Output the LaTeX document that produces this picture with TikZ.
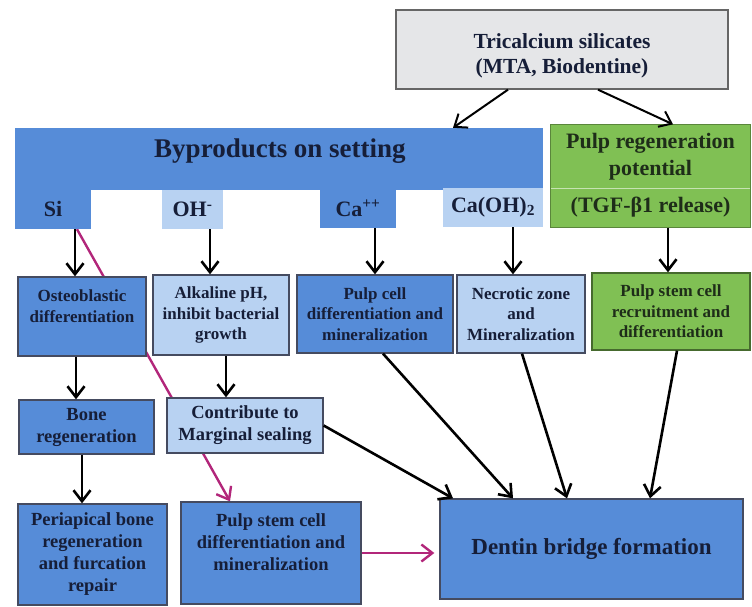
\documentclass[tikz,border=0pt]{standalone}
\usepackage{fontspec}
\setmainfont{Liberation Serif}
\usetikzlibrary{arrows.meta,backgrounds}

\definecolor{dkblue}{RGB}{86,140,216}
\definecolor{ltblue}{RGB}{184,210,242}
\definecolor{grn}{RGB}{128,192,84}
\definecolor{gry}{RGB}{229,230,232}
\definecolor{ink}{RGB}{22,30,56}
\definecolor{grnink}{RGB}{30,45,25}
\definecolor{mag}{RGB}{178,38,122}

\begin{document}
\begin{tikzpicture}[x=1pt,y=-1pt,
    box/.style={draw=ink!80, line width=1.3pt, inner sep=0pt, align=center, text=ink},
    darkbox/.style={box, fill=dkblue},
    lightbox/.style={box, fill=ltblue},
    grnbox/.style={box, fill=grn, draw=grn!55!black, text=grnink},
    cell/.style={inner sep=0pt, text=ink, font=\bfseries\fontsize{22}{26}\selectfont},
    fsmall/.style={font=\bfseries\fontsize{17}{20.5}\selectfont},
    fmid/.style={font=\bfseries\fontsize{18.5}{22}\selectfont},
    flarge/.style={font=\bfseries\fontsize{22}{27}\selectfont},
    arr/.style={-{Straight Barb[length=11pt,width=17pt]}, line width=2.6pt},
    magarr/.style={arr, draw=mag}]

    \useasboundingbox (0,0) rectangle (752,607);

    \node[box, fill=gry, draw=black!60, minimum width=332, minimum height=79] (tri) at (562,49.5) {};
    \node[text=ink, align=center, font=\bfseries\fontsize{21.5}{25}\selectfont] (tritxt) at (562,56) {Tricalcium silicates\\(MTA, Biodentine)};

    \node[fill=dkblue, minimum width=528, minimum height=62, inner sep=0pt] (bar) at (279,159) {};
    \node[text=ink, font=\bfseries\fontsize{27}{32}\selectfont] (bartxt) at (280,151) {Byproducts on setting};
    \node[cell, fill=dkblue, minimum width=76, minimum height=41] (si) at (53,208.5) {Si};
    \node[cell, fill=ltblue, minimum width=61, minimum height=39] (oh) at (192.5,209.5) {OH\textsuperscript{-}};
    \node[cell, fill=dkblue, minimum width=76, minimum height=40] (ca) at (358,208) {Ca\textsuperscript{++}};
    \node[cell, fill=ltblue, minimum width=100, minimum height=39] (caoh) at (493,207.5) {Ca(OH)\textsubscript{2}};

    \node[grnbox, flarge, draw=none, minimum width=199, minimum height=63] (gtop) at (650.5,156.5) {Pulp regeneration\\potential};
    \node[grnbox, flarge, draw=none, minimum width=199, minimum height=39] (gbot) at (650.5,207.5) {(TGF-β1 release)};
    \draw[white!55!grn, line width=1pt] (gtop.south west) -- (gtop.south east);
    \draw[grn!70!black, line width=1pt] (gtop.north west) rectangle (gbot.south east);

    \node[darkbox, fsmall, minimum width=128, minimum height=79] (osteo) at (82,316.5) {Osteoblastic\\differentiation\\\mbox{}};
    \node[lightbox, fsmall, minimum width=136, minimum height=80] (alk) at (221,315) {Alkaline pH,\\inhibit bacterial\\growth};
    \node[darkbox, fsmall, minimum width=156, minimum height=78] (pcell) at (375,314) {Pulp cell\\differentiation and\\mineralization};
    \node[lightbox, fsmall, minimum width=128, minimum height=78] (necro) at (521,314) {Necrotic zone\\and\\Mineralization};
    \node[grnbox, fsmall, minimum width=158, minimum height=77] (recruit) at (671,311.5) {Pulp stem cell\\recruitment and\\differentiation};

    \node[darkbox, fmid, minimum width=135, minimum height=54] (bone) at (86.5,427) {Bone\\regeneration};
    \node[lightbox, fmid, minimum width=156, minimum height=55] (seal) at (245,425.5) {Contribute to\\Marginal sealing};

    \node[darkbox, fmid, minimum width=149, minimum height=101] (peri) at (92.5,554.5) {Periapical bone\\regeneration\\and furcation\\repair};
    \node[darkbox, fmid, minimum width=180, minimum height=102] (pstem) at (271,553) {Pulp stem cell\\differentiation and\\mineralization\\\mbox{}};
    \node[darkbox, font=\bfseries\fontsize{23}{27}\selectfont, minimum width=303, minimum height=100] (dentin) at (591.5,549) {Dentin bridge formation};

    \draw[arr, line width=2pt] ([xshift=-54]tri.south) -- ([xshift=174]bar.north);
    \draw[arr, line width=2pt] ([xshift=36]tri.south) -- ([xshift=22.5]gtop.north);

    \draw[arr] ([xshift=22]si.south) -- ([xshift=-7]osteo.north);
    \draw[arr] ([xshift=17.5]oh.south) -- ([xshift=-11]alk.north);
    \draw[arr] ([xshift=17]ca.south) -- (pcell.north);
    \draw[arr] ([xshift=20]caoh.south) -- ([xshift=-8]necro.north);
    \draw[arr] ([xshift=17.5]gbot.south) -- ([xshift=-3]recruit.north);

    \draw[arr] ([xshift=-6]osteo.south) -- ([xshift=-10.5]bone.north);
    \draw[arr] ([xshift=5]alk.south) -- ([xshift=-19]seal.north);
    \draw[arr] ([xshift=-4.5]bone.south) -- ([xshift=-10.5]peri.north);

    \draw[arr] (seal.east) -- ([xshift=-138.5]dentin.north);
    \draw[arr] ([xshift=8]pcell.south) -- ([xshift=-78.5]dentin.north);
    \draw[arr] ([xshift=1]necro.south) -- ([xshift=-24.5]dentin.north);
    \draw[arr] ([xshift=6]recruit.south) -- ([xshift=58.5]dentin.north);

    \begin{scope}[on background layer]
        \draw[magarr, line width=2.4pt] ([xshift=24]si.south) -- ([xshift=-41]pstem.north);
    \end{scope}
    \draw[magarr, line width=2.4pt] (pstem.east) -- ([xshift=-5]dentin.west |- pstem.east);

\end{tikzpicture}
\end{document}
